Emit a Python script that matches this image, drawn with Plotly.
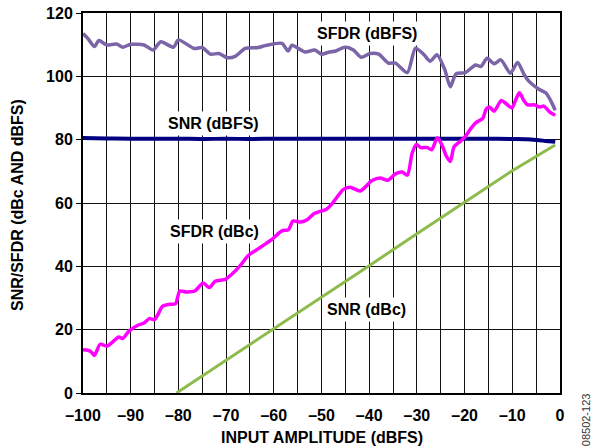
import plotly.graph_objects as go

# ---- data ----
sfdr_dbfs_x = [-100, -99, -97.6, -96.7, -95, -93, -91.7, -90, -87.2, -85.3, -83.7, -81, -80,
               -76.7, -75, -73.3, -71.5, -69.8, -68, -66, -63.2, -61.8, -58.3, -57, -56.2,
               -53.5, -51.4, -50, -48.5, -47, -45, -43.3, -41.7, -39.8, -38, -36, -34.5, -32,
               -30.3, -28.5, -27.2, -25.8, -24.2, -23, -21.8, -19.8, -17.7, -16.6, -15.3,
               -13.8, -12.4, -10.4, -8.9, -7.5, -6.5, -4.5, -3, -2, -1]
sfdr_dbfs_y = [113.5, 112.0, 109.4, 111.3, 109.9, 110.2, 109.2, 110.1, 109.9, 108.3, 110.9, 109.2, 111.5,
               108.8, 109.1, 107.0, 107.2, 105.9, 106.4, 108.8, 109.1, 109.7, 110.4, 108.0, 109.8,
               107.7, 108.3, 107.0, 107.6, 108.0, 109.3, 108.3, 106.0, 107.2, 107.0, 104.2, 104.2, 101.2,
               108.9, 106.8, 104.8, 106.8, 102.3, 96.7, 100.8, 101.2, 103.6, 103.1, 105.7,
               104.0, 105.2, 101.0, 104.4, 100.5, 98.4, 96.0, 94.8, 92.5, 89.3]

sfdr_dbc_x = [-100, -99, -98.3, -97.6, -96.4, -95, -93.8, -92.5, -91.7, -90.3, -88.5, -87.2, -86.1,
              -85, -84.4, -83.3, -81.9, -80.6, -79.7, -78.3, -76.6, -74.8, -73.5, -72.3, -70.2,
              -68.8, -67, -65.3, -63.2, -61.8, -60.4, -58.3, -56.9, -56.0, -54.4, -53, -51.6, -50.6,
              -49, -47.6, -45.4, -44, -41.9, -39.4, -37.7, -36.1, -34.5, -33.1, -32, -31, -30.1,
              -29.2, -27.8, -26.9, -25.7, -24.6, -23.9, -23, -22.2, -20.8, -19.7, -18.7, -17.6,
              -16.2, -15.5, -14.8, -13.8, -12.3, -11.3, -10.1, -9.2, -8.5, -7.6, -6.8, -5.4,
              -4.3, -3.4, -2.2, -1]
sfdr_dbc_y = [13.7, 13.5, 13.0, 11.9, 15.4, 14.8, 16.1, 17.7, 17.2, 19.6, 21.4, 22.1, 23.5,
              23.2, 24.5, 27.4, 28.0, 28.2, 32.2, 31.9, 32.2, 34.7, 33.3, 35.3, 35.9,
              37.5, 40.3, 43.5, 45.6, 47.0, 48.5, 51.2, 51.6, 54.3, 54.0, 54.7, 56.6, 57.2,
              58.0, 60.1, 64.3, 65.0, 63.8, 67.1, 67.9, 67.2, 69.2, 69.8, 68.8, 75.7, 78.5,
              77.5, 77.5, 76.8, 80.6, 77.8, 75.0, 73.1, 77.8, 79.6, 81.3, 83.5, 85.4,
              86.7, 89.6, 90.3, 89.0, 92.4, 91.4, 90.0, 92.9, 94.8, 92.4, 91.0, 91.0,
              90.3, 90.6, 88.8, 87.7]

snr_dbfs_x = [-100, -95, -90, -85, -80, -75, -70, -65, -60, -55, -50, -45, -40, -35, -30,
              -25, -20, -15, -10, -7, -5, -3, -1]
snr_dbfs_y = [80.5, 80.4, 80.3, 80.3, 80.3, 80.2, 80.3, 80.2, 80.3, 80.3, 80.3, 80.3, 80.3, 80.3, 80.3,
              80.3, 80.3, 80.3, 80.2, 80.1, 79.9, 79.6, 79.3]

snr_dbc_x = [-80.4, -70, -60, -50, -40, -30, -20, -10, -1]
snr_dbc_y = [0.0, 10.3, 20.3, 30.3, 40.2, 50.3, 60.3, 70.2, 78.3]

x_tick_vals = [-100, -90, -80, -70, -60, -50, -40, -30, -20, -10, 0]
x_tick_text = ["–100", "–90", "–80", "–70", "–60", "–50", "–40", "–30", "–20", "–10", "0"]
y_tick_vals = [0, 20, 40, 60, 80, 100, 120]

FONT = "Liberation Sans, Arial, sans-serif"

fig = go.Figure()
fig.add_trace(go.Scatter(x=snr_dbc_x, y=snr_dbc_y, mode="lines",
                         line=dict(color="#8DBB4C", width=3), name="SNR (dBc)"))
fig.add_trace(go.Scatter(x=snr_dbfs_x, y=snr_dbfs_y, mode="lines",
                         line=dict(color="#000080", width=4, shape="spline"), name="SNR (dBFS)"))
fig.add_trace(go.Scatter(x=sfdr_dbfs_x, y=sfdr_dbfs_y, mode="lines",
                         line=dict(color="#7B64A8", width=3.5, shape="spline", smoothing=0.7),
                         name="SFDR (dBFS)"))
fig.add_trace(go.Scatter(x=sfdr_dbc_x, y=sfdr_dbc_y, mode="lines",
                         line=dict(color="#FF00FF", width=3.5, shape="spline", smoothing=0.7),
                         name="SFDR (dBc)"))

labels = [("SFDR (dBFS)", -40.5, 113.6), ("SNR (dBFS)", -72.7, 85.2),
          ("SFDR (dBc)", -72.5, 50.9), ("SNR (dBc)", -40.5, 26.4)]
for txt, lx, ly in labels:
    fig.add_annotation(x=lx, y=ly, xref="x", yref="y", text=txt, showarrow=False,
                       font=dict(family=FONT, size=16, color="black", weight="bold"),
                       bgcolor="white", borderpad=3)

# axis titles
fig.add_annotation(x=0.5, y=-0.1158, xref="paper", yref="paper", text="INPUT AMPLITUDE (dBFS)",
                   showarrow=False, yanchor="middle",
                   font=dict(family=FONT, size=16, color="black", weight="bold"))
fig.add_annotation(x=-0.136, y=0.495, xref="paper", yref="paper", text="SNR/SFDR (dBc AND dBFS)",
                   showarrow=False, textangle=-90, xanchor="center", yanchor="middle",
                   font=dict(family=FONT, size=16, color="black", weight="bold"))

fig.add_annotation(x=1.055, y=-0.071, xref="paper", yref="paper", text="08502-123",
                   showarrow=False, textangle=-90, xanchor="center", yanchor="middle",
                   font=dict(family=FONT, size=11, color="#333333", weight="normal"))

fig.update_layout(
    template="none",
    width=596, height=448,
    margin=dict(l=83, r=36, t=13, b=55),
    paper_bgcolor="white", plot_bgcolor="white",
    showlegend=False,
    font=dict(family=FONT, size=16, color="black", weight="bold"),
    xaxis=dict(range=[-100, 0], tickmode="array", tickvals=x_tick_vals, ticktext=x_tick_text,
               automargin=False,
               showgrid=False, zeroline=False, showline=True, linecolor="black", linewidth=2,
               mirror=True, ticks="", ticklabelstandoff=7,
               tickfont=dict(family=FONT, size=16, color="black", weight="bold"),
               minor=dict(dtick=5, tick0=0, showgrid=True, gridcolor="#111111", gridwidth=1.4,
                          ticks="")),
    yaxis=dict(range=[0, 120], tickmode="array", tickvals=y_tick_vals,
               automargin=False,
               showgrid=True, gridcolor="#111111", gridwidth=1.4, zeroline=False,
               showline=True, linecolor="black", linewidth=2, mirror=True,
               ticks="outside", ticklen=5, tickcolor="black", tickwidth=1.3,
               tickfont=dict(family=FONT, size=16, color="black", weight="bold")),
)

fig.write_html("out.html", config={"displayModeBar": False},
               post_script="document.body.style.margin='0';document.body.style.overflow='hidden';")
